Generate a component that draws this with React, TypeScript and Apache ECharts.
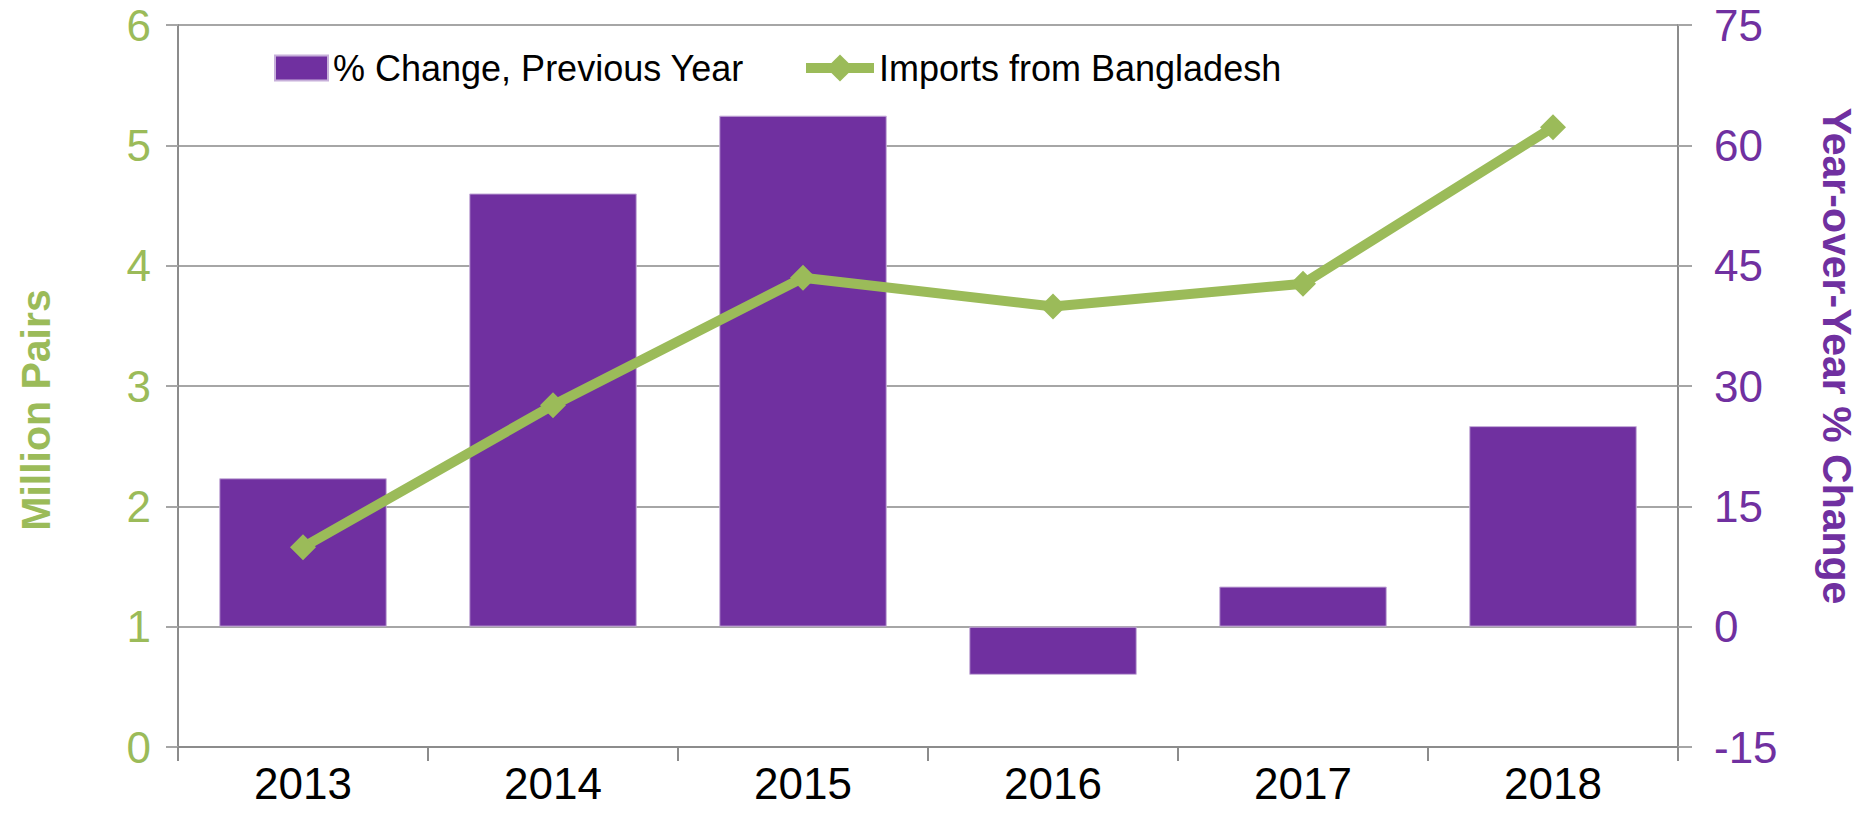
import React, { useEffect, useRef } from "react";
import * as echarts from "echarts";

const years = ["2013", "2014", "2015", "2016", "2017", "2018"];
const pctChange = [18.5, 54.0, 63.7, -6.0, 5.0, 25.0];
const importsMillionPairs = [1.66, 2.84, 3.9, 3.66, 3.85, 5.15];

const PURPLE = "#7030A0";
const GREEN = "#9BBB59";
const GRID_GRAY = "#A6A6A6";
const AXIS_GRAY = "#8C8C8C";
const FONT = "'Liberation Sans Narrow', 'Arial Narrow', 'Liberation Sans', Arial, sans-serif";

export default function App() {
  const ref = useRef<HTMLDivElement>(null);

  useEffect(() => {
    if (!ref.current) return;
    const chart = echarts.init(ref.current, undefined, { renderer: "svg" });
    chart.setOption({
      animation: false,
      backgroundColor: "#FFFFFF",
      grid: {
        left: 178,
        right: 188,
        top: 25,
        bottom: 68,
        containLabel: false,
        outerBoundsMode: "none",
      },
      legend: [
        {
          data: [{ name: "% Change, Previous Year", icon: "rect" }],
          left: 269,
          top: 45,
          itemWidth: 53,
          itemHeight: 25,
          textStyle: { fontFamily: FONT, fontSize: 36, color: "#000000" },
        },
        {
          data: ["Imports from Bangladesh"],
          left: 796,
          top: 45,
          itemWidth: 68,
          itemHeight: 34,
          lineStyle: { width: 10, color: GREEN },
          itemStyle: { color: GREEN },
          textStyle: { fontFamily: FONT, fontSize: 36, color: "#000000" },
        },
      ],
      xAxis: {
        type: "category",
        data: years,
        boundaryGap: true,
        axisLine: { show: true, lineStyle: { color: AXIS_GRAY, width: 2 } },
        axisTick: { show: true, alignWithLabel: false, length: 14, lineStyle: { color: AXIS_GRAY, width: 2 } },
        axisLabel: { fontFamily: FONT, fontSize: 44, color: "#000000", margin: 14 },
        splitLine: { show: false },
      },
      yAxis: [
        {
          type: "value",
          min: 0,
          max: 6,
          interval: 1,
          position: "left",
          name: "Million Pairs",
          nameLocation: "middle",
          nameRotate: 90,
          nameGap: 122,
          nameTextStyle: {
            fontFamily: FONT,
            fontSize: 41,
            fontWeight: "bold",
            color: GREEN,
            padding: [0, 48, 0, 0],
          },
          axisLine: { show: true, lineStyle: { color: AXIS_GRAY, width: 2 } },
          axisTick: { show: true, length: 12, lineStyle: { color: GRID_GRAY, width: 2 } },
          axisLabel: { fontFamily: FONT, fontSize: 44, color: GREEN, margin: 27 },
          splitLine: { show: true, lineStyle: { color: GRID_GRAY, width: 2 } },
        },
        {
          type: "value",
          min: -15,
          max: 75,
          interval: 15,
          position: "right",
          name: "Year-over-Year % Change",
          nameLocation: "middle",
          nameRotate: -90,
          nameGap: 138,
          nameTextStyle: {
            fontFamily: FONT,
            fontSize: 41,
            fontWeight: "bold",
            color: PURPLE,
            padding: [0, 60, 0, 0],
          },
          axisLine: { show: true, lineStyle: { color: AXIS_GRAY, width: 2 } },
          axisTick: { show: true, length: 14, lineStyle: { color: GRID_GRAY, width: 2 } },
          axisLabel: { fontFamily: FONT, fontSize: 44, color: PURPLE, margin: 36 },
          splitLine: { show: false },
        },
      ],
      series: [
        {
          name: "% Change, Previous Year",
          type: "bar",
          yAxisIndex: 1,
          data: pctChange,
          barCategoryGap: "33%",
          itemStyle: { color: PURPLE, borderColor: "#C7B0DA", borderWidth: 1 },
          z: 2,
        },
        {
          name: "Imports from Bangladesh",
          type: "line",
          yAxisIndex: 0,
          data: importsMillionPairs,
          symbol: "diamond",
          symbolSize: 26,
          lineStyle: { color: GREEN, width: 10 },
          itemStyle: { color: GREEN },
          z: 3,
        },
      ],
    });
    return () => chart.dispose();
  }, []);

  return (
    <div
      ref={ref}
      style={{ position: "absolute", left: 0, top: 0, width: 1866, height: 815 }}
    />
  );
}
